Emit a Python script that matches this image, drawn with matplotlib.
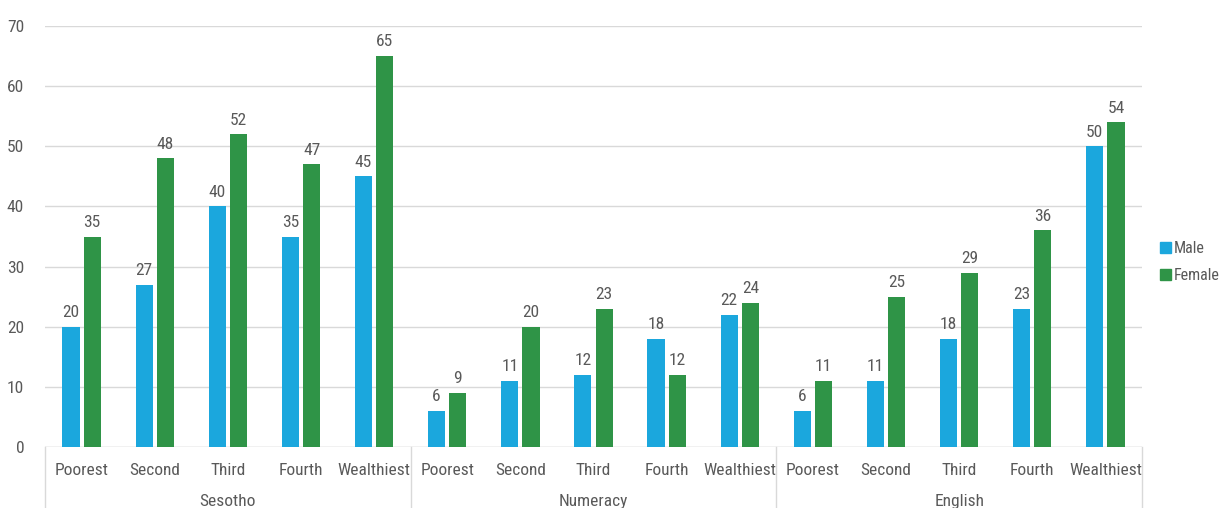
import matplotlib
matplotlib.use("Agg")
import matplotlib.pyplot as plt
import numpy as np
from matplotlib.lines import Line2D
from matplotlib.patches import Patch

plt.rcParams['font.family'] = ['Roboto Condensed', 'Liberation Sans Narrow', 'Roboto', 'DejaVu Sans']

groups = ["Sesotho", "Numeracy", "English"]
quintiles = ["Poorest", "Second", "Third", "Fourth", "Wealthiest"]
male = [20, 27, 40, 35, 45, 6, 11, 12, 18, 22, 6, 11, 18, 23, 50]
female = [35, 48, 52, 47, 65, 9, 20, 23, 12, 24, 11, 25, 29, 36, 54]

blue = "#1BA7DD"
green = "#2F9447"
text_c = "#595959"
grid_c = "#D9D9D9"
fs = 12.5

W, H = 1221, 508
fig = plt.figure(figsize=(W / 100, H / 100), dpi=100)
ax = fig.add_axes([45 / W, (H - 447) / H, (1142 - 45) / W, (447 - 26) / H])

n = len(male)
x = np.arange(n)
bw = 0.235
off = 0.145
bm = ax.bar(x - off, male, bw, color=blue, zorder=3)
bf = ax.bar(x + off, female, bw, color=green, zorder=3)
for rect, v in zip(bm, male):
    ax.text(rect.get_x() + rect.get_width() / 2, v + 1.1, str(v), ha="center", va="bottom",
            fontsize=fs, color=text_c)
for rect, v in zip(bf, female):
    ax.text(rect.get_x() + rect.get_width() / 2, v + 1.1, str(v), ha="center", va="bottom",
            fontsize=fs, color=text_c)

ax.set_xlim(-0.5, n - 0.5)
ax.set_ylim(0, 70)
ax.set_yticks(range(0, 71, 10))
ax.tick_params(axis="y", length=0, labelsize=fs, labelcolor=text_c, pad=15)
ax.set_xticks([])
ax.yaxis.grid(True, color=grid_c, linewidth=1, zorder=0)
for s in ax.spines.values():
    s.set_visible(False)

# bottom axis line and group separators
ax.axhline(0, color=grid_c, linewidth=1, zorder=2)
trans = ax.get_xaxis_transform()
for b in [-0.5, 4.5, 9.5, 14.5]:
    ax.add_line(Line2D([b, b], [0, -0.2], transform=trans, color=grid_c, linewidth=1, clip_on=False))

for i in range(n):
    ax.text(i, -0.057, quintiles[i % 5], transform=trans, ha="center", va="center",
            fontsize=fs, color=text_c)
for g, name in enumerate(groups):
    ax.text(g * 5 + 2, -0.13, name, transform=trans, ha="center", va="center",
            fontsize=fs, color=text_c)

handles = [Patch(color=blue, label="Male"), Patch(color=green, label="Female")]
fig.legend(handles=handles, loc="center left", bbox_to_anchor=(1160 / W, 1 - 262 / H),
           frameon=False, fontsize=11.5, labelcolor=text_c, handlelength=0.68,
           handleheight=0.68, handletextpad=0.2, labelspacing=0.75, borderpad=0,
           borderaxespad=0)

fig.savefig("out.png", dpi=100, facecolor="white")
